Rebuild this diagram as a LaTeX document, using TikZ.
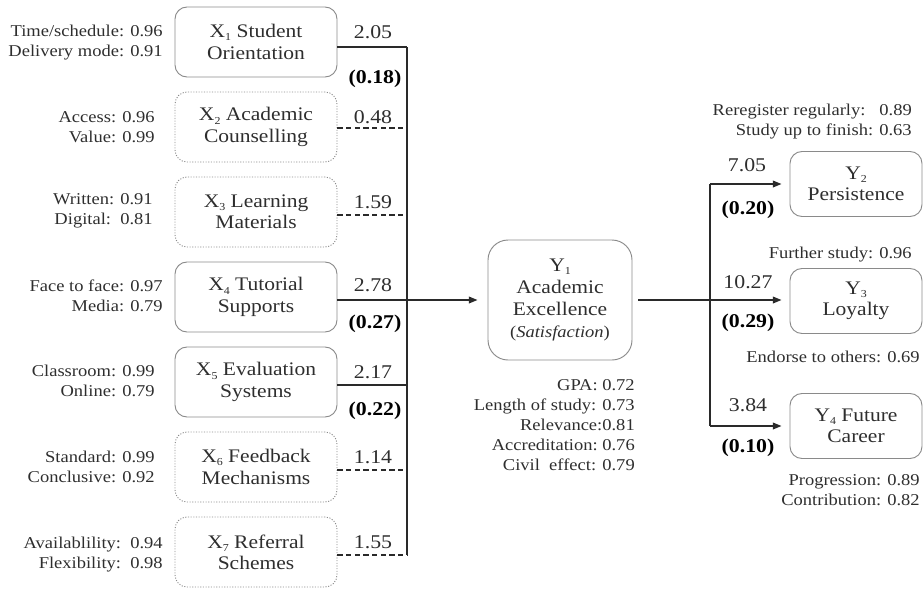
\documentclass[tikz,border=0pt]{standalone}
\usepackage{fontspec}
\setmainfont{Liberation Serif}[FakeStretch=1.12]
\usetikzlibrary{arrows.meta}
\definecolor{txt}{HTML}{2E2E2E}
\definecolor{bord}{HTML}{8A8A8A}
\definecolor{ln}{HTML}{2A2A2A}
\newcommand{\sidefont}{\fontsize{12.4}{15}\selectfont}
\newcommand{\boxfont}{\fontsize{14.4}{16}\selectfont}
\newcommand{\yfont}{\fontsize{14.4}{16.5}\selectfont}
\newcommand{\coeffont}{\fontsize{14.6}{16}\selectfont}
\newcommand{\mysub}[1]{\raisebox{-0.35ex}{\fontsize{8}{8}\selectfont #1}}
\begin{document}
\begin{tikzpicture}[x=0.75pt,y=-0.75pt,
  ind/.style={font=\sidefont, text=txt, align=right, anchor=east, inner sep=0pt},
  xbox/.style={draw=bord, line width=0.7pt, rounded corners=9pt, minimum width=121.5pt, minimum height=52.5pt, align=center, font=\boxfont, text=txt, inner sep=0pt},
  dbox/.style={xbox, dash pattern=on 0.8pt off 1.2pt},
  ybox/.style={xbox, minimum width=99pt, minimum height=48.75pt},
  coef/.style={font=\coeffont, text=txt, inner sep=0pt},
  bcoef/.style={coef, font=\coeffont\bfseries, text=black},
  conn/.style={draw=ln, line width=1.1pt},
  dconn/.style={conn, dash pattern=on 4pt off 2.5pt},
  arr/.style={conn, -{Triangle[length=6.5pt,width=5pt]}}
]
\useasboundingbox (0,0) rectangle (924,590);

% X boxes
\node[xbox] (x1) at (256,42) {X\mysub{1} Student\\Orientation};
\node[dbox] (x2) at (256,127) {X\mysub{2} Academic\\Counselling};
\node[dbox] (x3) at (256,212) {X\mysub{3} Learning\\Materials};
\node[xbox] (x4) at (256,297) {X\mysub{4} Tutorial\\Supports};
\node[xbox] (x5) at (256,382) {X\mysub{5} Evaluation\\Systems};
\node[dbox] (x6) at (256,467) {X\mysub{6} Feedback\\Mechanisms};
\node[dbox] (x7) at (256,552) {X\mysub{7} Referral\\Schemes};

% indicator labels, left
\node[ind] (i1) at (163,43) {Time/schedule: 0.96\\Delivery mode: 0.91};
\node[ind] (i2) at (155,127.5) {Access: 0.96\\Value: 0.99};
\node[ind] (i3) at (153,211) {Written: 0.91\\Digital:\ \ 0.81};
\node[ind] (i4) at (163,296) {Face to face: 0.97\\Media: 0.79};
\node[ind] (i5) at (155,381) {Classroom: 0.99\\Online: 0.79};
\node[ind] (i6) at (155,467) {Standard: 0.99\\Conclusive: 0.92};
\node[ind] (i7) at (163,555) {Availablility:\ \ 0.94\\Flexibility:\ \ 0.98};

% bus coordinates
\coordinate (b1) at (407,47);
\coordinate (b2) at (407,128);
\coordinate (b3) at (407,215);
\coordinate (b4) at (407,300);
\coordinate (b5) at (407,385);
\coordinate (b6) at (407,470);
\coordinate (b7) at (407,555);

\draw[conn] (b1 -| x1.east) -- (b1);
\draw[dconn] (b2 -| x2.east) -- (b2);
\draw[dconn] (b3 -| x3.east) -- (b3);
\draw[conn] (b4 -| x4.east) -- (b4);
\draw[conn] (b5 -| x5.east) -- (b5);
\draw[dconn] (b6 -| x6.east) -- (b6);
\draw[dconn] (b7 -| x7.east) -- (b7);
\draw[conn] (b1) -- (b7);

% coefficients left
\node[coef] (c1) at (373,32) {2.05};
\node[bcoef] (p1) at (375,79) {(0.18)};
\node[coef] (c2) at (373,117) {0.48};
\node[coef] (c3) at (373,202) {1.59};
\node[coef] (c4) at (373,285) {2.78};
\node[bcoef] (p4) at (375,324) {(0.27)};
\node[coef] (c5) at (373,372) {2.17};
\node[bcoef] (p5) at (375,411) {(0.22)};
\node[coef] (c6) at (373,457) {1.14};
\node[coef] (c7) at (373,542) {1.55};

% Y1
\node[xbox, minimum width=108pt, minimum height=90pt, rounded corners=15pt, font=\yfont] (y1) at (560,300)
  {Y\mysub{1}\\Academic\\Excellence\\{\fontsize{12.4}{15}\selectfont(\textit{Satisfaction})}};
\draw[arr, shorten >=7.5pt] (b4) -- (b4 -| y1.west);

\node[ind, align=right] (iy1) at (635,425.5) {\fontsize{12.4}{14.5}\selectfont GPA: 0.72\\Length of study: 0.73\\Relevance:0.81\\Accreditation:\ 0.76\\Civil\ \ effect: 0.79};

% Y2-Y4
\node[ybox] (y2) at (856,184) {Y\mysub{2}\\Persistence};
\node[ybox] (y3) at (856,301) {Y\mysub{3}\\Loyalty};
\node[ybox] (y4) at (856,426) {Y\mysub{4} Future\\Career};

\coordinate (j) at (710,300);
\draw[arr, shorten <=4.5pt, shorten >=6pt] (y1.east) -- (y1.east -| y3.west);
\draw[conn] (j |- y2.west) -- (j |- y4.west);
\draw[arr, shorten >=6pt] (j |- y2.west) -- (y2.west);
\draw[arr, shorten >=6pt] (j |- y4.west) -- (y4.west);

\node[coef] (c8) at (747,165) {7.05};
\node[bcoef] (p8) at (748,210) {(0.20)};
\node[coef] (c9) at (748,282) {10.27};
\node[bcoef] (p9) at (748,323) {(0.29)};
\node[coef] (c10) at (748,405) {3.84};
\node[bcoef] (p10) at (748,448) {(0.10)};

% indicator labels, right
\node[ind] (iy2) at (912,122) {Reregister regularly:\ \ \ 0.89\\Study up to finish: 0.63};
\node[ind] (iy3a) at (912,255) {Further study: 0.96};
\node[ind] (iy3b) at (920,357) {Endorse to others: 0.69};
\node[ind] (iy4) at (920,490) {Progression: 0.89\\Contribution: 0.82};
\end{tikzpicture}
\end{document}
